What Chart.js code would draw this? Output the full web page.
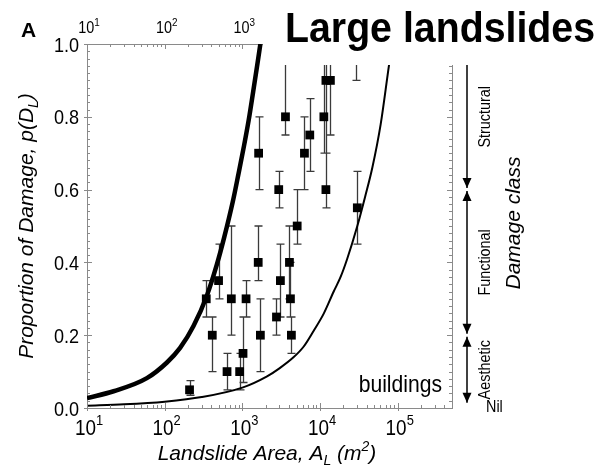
<!DOCTYPE html>
<html>
<head>
<meta charset="utf-8">
<script src="https://cdn.jsdelivr.net/npm/chart.js@4.4.1/dist/chart.umd.min.js"></script>
<style>
  html, body { margin: 0; padding: 0; background: #fff; }
  canvas { display: block; }
</style>
</head>
<body>
<canvas id="chart" width="603" height="469"></canvas>
<script>
  const areas      = [209, 343, 410, 494, 635, 721, 923, 1020, 1116, 1600, 1620, 1706, 2750, 2940, 3090, 3590, 4040, 4160, 4280, 5080, 6300, 7380, 11200, 11900, 11900, 13600, 29300, 30200];
  const damage     = [0.05, 0.30, 0.20, 0.35, 0.10, 0.30, 0.10, 0.15, 0.30, 0.40, 0.70, 0.20, 0.25, 0.60, 0.35, 0.80, 0.40, 0.30, 0.20, 0.50, 0.70, 0.75, 0.80, 0.90, 0.60, 0.90, 1.00, 0.55];
  const damageLow  = [0.035, 0.25, 0.10, 0.30, 0.05, 0.20, 0.05, 0.07, 0.25, 0.35, 0.60, 0.10, 0.20, 0.55, 0.25, 0.75, 0.30, 0.25, 0.15, 0.45, 0.60, 0.65, 0.70, 0.70, 0.55, 0.75, 0.90, 0.45];
  const damageHigh = [0.075, 0.35, 0.25, 0.45, 0.15, 0.50, 0.15, 0.25, 0.35, 0.50, 0.80, 0.30, 0.30, 0.65, 0.45, 1.00, 0.50, 0.40, 0.25, 0.60, 0.80, 0.85, 1.00, 1.00, 0.70, 1.00, 1.00, 0.65];

  // envelope curves (thick = upper, thin = lower)
  const upperArea = [10, 22, 59, 107, 158, 235, 351, 471, 586, 750, 895, 1050, 1205, 1380, 1549, 1706];
  const upperP    = [0.027, 0.046, 0.082, 0.125, 0.165, 0.225, 0.31, 0.395, 0.47, 0.565, 0.645, 0.72, 0.79, 0.87, 0.94, 1.0];
  const lowerArea = [10, 30, 100, 300, 1000, 2080, 3000, 4590, 6170, 8330, 11200, 15000, 18400, 22400, 30200, 38000, 47100, 60400, 77300, 85000];
  const lowerP    = [0.006, 0.010, 0.0175, 0.030, 0.056, 0.087, 0.109, 0.14, 0.169, 0.213, 0.26, 0.32, 0.36, 0.41, 0.50, 0.58, 0.66, 0.78, 0.942, 1.0];

  // axes
  const xDecades = [10, 100, 1000, 10000, 100000];
  const xExponents = ['1', '2', '3', '4', '5'];
  const yTicks = [0, 0.2, 0.4, 0.6, 0.8, 1.0];
  const yTickLabels = ['0.0', '0.2', '0.4', '0.6', '0.8', '1.0'];

  // damage classes on the right
  const damageClasses = ['Structural', 'Functional', 'Aesthetic'];
  const classTop    = [1.0, 0.6, 0.2];
  const classBottom = [0.6, 0.2, 0.01];

  const FONT = '"Liberation Sans", Arial, Helvetica, sans-serif';
  const axisGrey = '#8a8a8a';

  // text with sub/superscripts: parts = [[text, ''|'sub'|'sup'], ...]
  function drawRich(ctx, parts, x, y, size, style, align, sx) {
    sx = sx || 1;
    const fontFor = m => `${style} ${m ? Math.round(size * 0.68) : size}px ${FONT}`;
    let total = 0;
    parts.forEach(([t, m]) => { ctx.font = fontFor(m); total += ctx.measureText(t).width; });
    ctx.save();
    ctx.translate(x, y);
    ctx.scale(sx, 1);
    let cx = align === 'center' ? -total / 2 : (align === 'right' ? -total : 0);
    ctx.textAlign = 'left';
    ctx.textBaseline = 'alphabetic';
    parts.forEach(([t, m]) => {
      ctx.font = fontFor(m);
      const dy = m === 'sub' ? size * 0.22 : (m === 'sup' ? -size * 0.45 : 0);
      ctx.fillText(t, cx, dy);
      cx += ctx.measureText(t).width;
    });
    ctx.restore();
  }

  function drawRotated(ctx, parts, baseX, cy, size, style, sx) {
    ctx.save();
    ctx.translate(baseX, cy);
    ctx.rotate(-Math.PI / 2);
    drawRich(ctx, parts, 0, 0, size, style, 'center', sx);
    ctx.restore();
  }

  const errorBars = {
    id: 'errorBars',
    beforeDatasetsDraw(chart) {
      const { ctx, scales: { x, y } } = chart;
      ctx.save();
      ctx.strokeStyle = '#3a3a3a';
      ctx.lineWidth = 1.3;
      ctx.beginPath();
      areas.forEach((a, i) => {
        const px = Math.round(x.getPixelForValue(a)) + 0.5;
        const y1 = y.getPixelForValue(damageLow[i]);
        const y2 = y.getPixelForValue(damageHigh[i]);
        ctx.moveTo(px, y1); ctx.lineTo(px, y2);
        ctx.moveTo(px - 4, y1); ctx.lineTo(px + 4, y1);
        ctx.moveTo(px - 4, y2); ctx.lineTo(px + 4, y2);
      });
      ctx.stroke();
      ctx.restore();
    }
  };

  const decorations = {
    id: 'decorations',
    afterDatasetsDraw(chart) {
      const { ctx, chartArea: a, scales: { x, y, yRight } } = chart;
      ctx.save();

      // tick marks
      ctx.strokeStyle = axisGrey;
      ctx.lineWidth = 1;
      ctx.beginPath();
      for (let i = 0; i <= 50; i++) {
        const py = Math.round(y.getPixelForValue(i / 50)) + 0.5;
        const major = i % 10 === 0;
        ctx.moveTo(a.left - (major ? 3 : 0), py); ctx.lineTo(a.left + (major ? 5 : 3), py);
        ctx.moveTo(a.right, py); ctx.lineTo(a.right - (major ? 5 : 3), py);
      }
      xDecades.forEach(d => {
        for (let k = 1; k <= 9; k++) {
          const v = d * k;
          if (v > x.max) break;
          const px = Math.round(x.getPixelForValue(v)) + 0.5;
          const major = k === 1;
          ctx.moveTo(px, a.bottom + (major ? 3 : 0)); ctx.lineTo(px, a.bottom - (major ? 5 : 3));
          ctx.moveTo(px, a.top); ctx.lineTo(px, a.top + (major ? 5 : 3));
        }
      });
      ctx.stroke();

      // tick labels
      ctx.fillStyle = '#000';
      yTicks.forEach((v, i) => {
        drawRich(ctx, [[yTickLabels[i], '']], 79, y.getPixelForValue(v) + 7.5, 21, 'normal', 'right', 0.86);
      });
      xDecades.forEach((d, i) => {
        const px = x.getPixelForValue(d);
        drawRich(ctx, [['10', ''], [xExponents[i], 'sup']], px + 2, 435, 22, 'normal', 'center', 0.86);
        drawRich(ctx, [['10', ''], [xExponents[i], 'sup']], px + 2, 33, 16, 'normal', 'center', 0.9);
      });

      // axis titles
      drawRotated(ctx, [['Proportion of Damage, p(D', ''], ['L', 'sub'], [')', '']], 33, 226, 21, 'italic');
      drawRich(ctx, [['Landslide Area, A', ''], ['L', 'sub'], [' (m', ''], ['2', 'sup'], [')', '']], 267, 460, 21, 'italic', 'center');

      // panel letter and curve label
      drawRich(ctx, [['A', '']], 28.5, 37, 21, 'bold', 'center');
      drawRich(ctx, [['buildings', '']], 442, 392, 24, 'normal', 'right', 0.88);

      // damage class arrows
      const ax = a.right + 15;
      ctx.strokeStyle = '#000';
      ctx.fillStyle = '#000';
      ctx.lineWidth = 1.5;
      damageClasses.forEach((name, i) => {
        const top = yRight.getPixelForValue(classTop[i]) + (i > 0 ? 1.5 : 0);
        const bot = yRight.getPixelForValue(classBottom[i]) - 1.5;
        ctx.beginPath();
        ctx.moveTo(ax, top); ctx.lineTo(ax, bot);
        ctx.stroke();
        ctx.beginPath();
        ctx.moveTo(ax - 4.5, bot - 10); ctx.lineTo(ax + 4.5, bot - 10); ctx.lineTo(ax, bot);
        ctx.closePath(); ctx.fill();
        if (i > 0) {
          ctx.beginPath();
          ctx.moveTo(ax - 4.5, top + 10); ctx.lineTo(ax + 4.5, top + 10); ctx.lineTo(ax, top);
          ctx.closePath(); ctx.fill();
        }
        const mid = (yRight.getPixelForValue(classTop[i]) + yRight.getPixelForValue(classBottom[i])) / 2;
        drawRotated(ctx, [[name, '']], a.right + 38, mid, 16, 'normal', 0.9);
      });
      drawRich(ctx, [['Nil', '']], a.right + 34, a.bottom + 4, 16, 'normal', 'left', 0.9);
      drawRotated(ctx, [['Damage class', '']], 520, 223, 21, 'italic');

      ctx.restore();
    },
    afterDraw(chart) {
      const { ctx } = chart;
      // pasted-on heading over the top right
      ctx.save();
      ctx.fillStyle = '#fff';
      ctx.fillRect(263, 0, 340, 65);
      ctx.fillStyle = '#000';
      ctx.font = `bold 42px ${FONT}`;
      ctx.textAlign = 'left';
      ctx.textBaseline = 'alphabetic';
      ctx.fillText('Large landslides', 285, 42, 310);
      ctx.restore();
    }
  };

  const axisBase = {
    grid: { display: false },
    ticks: { display: false },
    border: { display: true, color: axisGrey, width: 1 }
  };

  new Chart(document.getElementById('chart'), {
    type: 'scatter',
    data: {
      datasets: [
        {
          type: 'line',
          data: upperArea.map((a, i) => ({ x: a, y: upperP[i] })),
          borderColor: '#000',
          borderWidth: 4.5,
          pointRadius: 0,
          cubicInterpolationMode: 'monotone',
          xAxisID: 'x', yAxisID: 'y'
        },
        {
          type: 'line',
          data: lowerArea.map((a, i) => ({ x: a, y: lowerP[i] })),
          borderColor: '#000',
          borderWidth: 2,
          pointRadius: 0,
          cubicInterpolationMode: 'monotone',
          xAxisID: 'x', yAxisID: 'y'
        },
        {
          type: 'scatter',
          data: areas.map((a, i) => ({ x: a, y: damage[i] })),
          pointStyle: 'rect',
          pointRadius: 6.2,
          backgroundColor: '#000',
          borderWidth: 0,
          xAxisID: 'x', yAxisID: 'y'
        }
      ]
    },
    options: {
      responsive: false,
      animation: false,
      events: [],
      layout: { padding: 0, autoPadding: false },
      plugins: { legend: { display: false }, tooltip: { enabled: false } },
      scales: {
        x: { ...axisBase, type: 'logarithmic', position: 'bottom', min: 10, max: 500000,
             afterFit: s => { s.height = 61; } },
        xTop: { ...axisBase, type: 'logarithmic', position: 'top', min: 10, max: 500000,
             afterFit: s => { s.height = 44; } },
        y: { ...axisBase, type: 'linear', position: 'left', min: 0, max: 1,
             afterFit: s => { s.width = 87; } },
        yRight: { ...axisBase, type: 'linear', position: 'right', min: 0, max: 1,
             afterFit: s => { s.width = 151; } }
      }
    },
    plugins: [errorBars, decorations]
  });
</script>
</body>
</html>
